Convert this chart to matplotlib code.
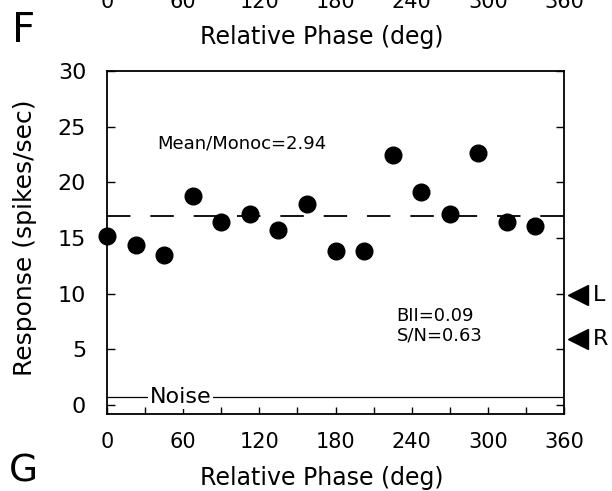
import matplotlib
matplotlib.use("Agg")
import matplotlib.pyplot as plt
from matplotlib.ticker import MultipleLocator
import matplotlib.transforms as mtransforms

# ---- data ----
phase = [0, 22.5, 45, 67.5, 90, 112.5, 135, 157.5, 180, 202.5, 225, 247.5, 270, 292.5, 315, 337.5]
response = [15.2, 14.4, 13.45, 18.75, 16.45, 17.2, 15.7, 18.1, 13.8, 13.8, 22.5, 19.1, 17.2, 22.6, 16.4, 16.1]
mean_level = 16.95
noise_level = 0.7
left_eye = 9.9
right_eye = 5.9
xticks_major = [0, 60, 120, 180, 240, 300, 360]
yticks = [0, 5, 10, 15, 20, 25, 30]
mean_text = "Mean/Monoc=2.94"
bii_text = "BII=0.09"
sn_text = "S/N=0.63"

plt.rcParams['font.family'] = ['DejaVu Sans']

W, H = 612, 491
fig = plt.figure(figsize=(W / 100, H / 100), dpi=100)
ax = fig.add_axes([107 / W, (H - 414) / H, 457 / W, (414 - 71) / H])

ax.set_xlim(0, 360)
ax.set_ylim(-0.8, 29.8)

# mean dashed line
ax.axhline(mean_level, color='black', lw=1.3, dashes=(13, 11))
# noise line
ax.axhline(noise_level, color='black', lw=0.9)
ax.text(58, noise_level, "Noise", fontsize=16, ha='center', va='center',
        bbox=dict(facecolor='white', edgecolor='none', pad=1.5))

# points
ax.plot(phase, response, 'o', color='black', markersize=12, clip_on=False, zorder=5)

# ticks
ax.xaxis.set_major_locator(MultipleLocator(60))
ax.xaxis.set_minor_locator(MultipleLocator(30))
ax.set_xticks(xticks_major)
ax.set_yticks(yticks)
ax.tick_params(axis='x', which='both', direction='in', length=5, width=1,
               labelsize=15, pad=13)
ax.tick_params(axis='y', which='both', direction='in', length=6, width=1,
               labelsize=16, pad=15, right=True)
for s in ax.spines.values():
    s.set_linewidth(1.3)

# annotations
ax.text(39.5, 23.5, mean_text, fontsize=13, ha='left', va='center')
ax.text(228, 8.0, bii_text, fontsize=13, ha='left', va='center')
ax.text(228, 6.25, sn_text, fontsize=13, ha='left', va='center')

# eye markers on right
trans = mtransforms.blended_transform_factory(ax.transAxes, ax.transData)
for yv, lab in [(left_eye, "L"), (right_eye, "R")]:
    ax.plot([1.031], [yv], marker='<', color='black', markersize=15,
            transform=trans, clip_on=False, linestyle='none')
    ax.text(1.063, yv, lab, transform=trans, fontsize=16, ha='left', va='center')

# axis labels
fig.text(25 / W, 1 - 238 / H, "Response (spikes/sec)", rotation=90,
         fontsize=18, ha='center', va='center')
fig.text(322 / W, 1 - 485 / H, "Relative Phase (deg)", fontsize=17,
         ha='center', va='baseline')

# top remnant of the previous panel
for xv in xticks_major:
    fig.text((107 + xv * 457 / 360) / W, 1 - 8 / H, str(xv), fontsize=15,
             ha='center', va='baseline')
fig.text(322 / W, 1 - 44 / H, "Relative Phase (deg)", fontsize=17,
         ha='center', va='baseline')

# panel letters
fig.text(12 / W, 1 - 42 / H, "F", fontsize=29, ha='left', va='baseline')
fig.text(9 / W, 1 - 482 / H, "G", fontsize=27, ha='left', va='baseline')

fig.savefig("out.png", dpi=100)
